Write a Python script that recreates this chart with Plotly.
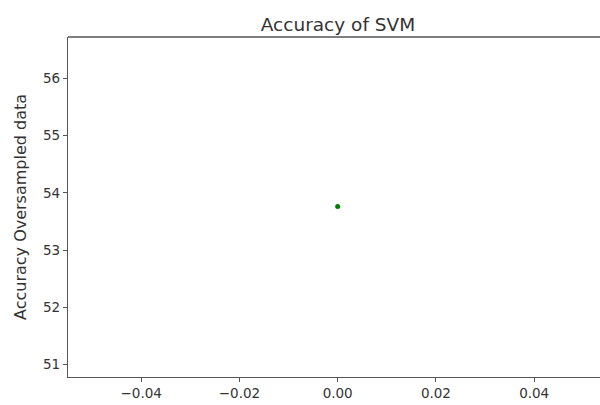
import plotly.graph_objects as go

x_vals = [0.0]
accuracy = [53.76]
x_ticks = [-0.04, -0.02, 0.0, 0.02, 0.04]
y_ticks = [51, 52, 53, 54, 55, 56]

fig = go.Figure()
fig.add_trace(go.Scatter(
    x=x_vals, y=accuracy, mode="markers",
    marker=dict(color="#008000", size=5),
    showlegend=False,
))

axis_common = dict(
    showgrid=False, zeroline=False, showline=True, linecolor="#555555", linewidth=1.4,
    ticks="outside", ticklen=4, tickcolor="#555555", tickwidth=1,
    tickfont=dict(family="DejaVu Sans", size=13.5, color="#333333"),
)

plot_w = 600 - 68 - 0
fig.update_layout(
    width=600, height=405,
    margin=dict(l=68, r=0, t=37, b=28, autoexpand=False),
    paper_bgcolor="white", plot_bgcolor="white",
    title=dict(text="Accuracy of SVM", x=0.5075, xref="paper", xanchor="center",
               y=1, yref="paper", yanchor="bottom", pad=dict(b=6),
               font=dict(family="DejaVu Sans", size=18.5, color="#333333")),
    xaxis=dict(range=[-0.0549, 0.0534], tickvals=x_ticks, tickformat=".2f",
               mirror=False, **axis_common),
    yaxis=dict(range=[50.785, 56.72], tickvals=y_ticks, mirror=False,
               **axis_common),
    shapes=[dict(type="line", xref="paper", yref="paper", x0=0, x1=1, y0=1, y1=1,
                 line=dict(color="#555555", width=1.4))],
    annotations=[dict(text="Accuracy Oversampled data", textangle=-90,
                      xref="paper", yref="paper", x=(20 - 68) / plot_w, y=0.5,
                      xanchor="center", yanchor="middle", showarrow=False,
                      font=dict(family="DejaVu Sans", size=16, color="#333333"))],
)

fig.write_html("out.html", config={"displayModeBar": False})
